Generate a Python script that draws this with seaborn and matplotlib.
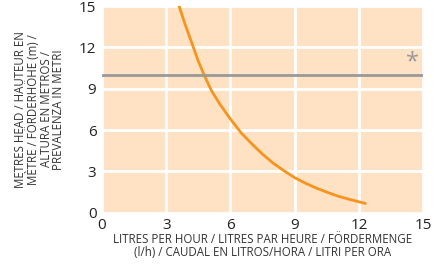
import matplotlib
matplotlib.use("Agg")
import matplotlib.pyplot as plt
import seaborn as sns
import pandas as pd

# flow (l/h) vs head (m)
flow = [3.6, 3.9, 4.2, 4.5, 4.8, 5.1, 5.5, 6.0, 6.5, 7.0, 7.5, 8.0, 8.5, 9.0,
        9.5, 10.0, 10.5, 11.0, 11.5, 12.0, 12.3]
head = [15.0, 13.6, 12.3, 11.0, 9.9, 8.9, 7.9, 6.8, 5.8, 5.0, 4.25, 3.6, 3.05, 2.55,
        2.15, 1.8, 1.5, 1.22, 1.0, 0.8, 0.68]
max_head = 10
ticks = [0, 3, 6, 9, 12, 15]

df = pd.DataFrame({"flow": flow, "head": head})

sns.set_style("whitegrid", {"axes.facecolor": "#FFE1C4", "grid.color": "white"})
plt.rcParams["font.family"] = ["Open Sans", "DejaVu Sans"]

fig = plt.figure(figsize=(4.34, 2.66), dpi=100)
ax = fig.add_axes([0.235, 0.2, 0.74, 0.777])

sns.lineplot(data=df, x="flow", y="head", color="#F7941D", linewidth=2, ax=ax)
ax.axhline(max_head, color="#999999", linewidth=2)
ax.text(14.5, 10.9, "*", color="#999999", fontsize=17, ha="center", va="center")

ax.set_xlim(0, 15)
ax.set_ylim(0, 15)
ax.set_xticks(ticks)
ax.set_yticks(ticks)
ax.grid(True, color="white", linewidth=2)
for side in ax.spines.values():
    side.set_visible(False)
ax.tick_params(axis="both", length=0, labelsize=11, colors="#222222", pad=4)

ax.set_xlabel("LITRES PER HOUR / LITRES PAR HEURE / FÖRDERMENGE\n(l/h) / CAUDAL EN LITROS/HORA / LITRI PER ORA",
              fontsize=8.3, color="#333333", labelpad=0, linespacing=0.95)
ax.set_ylabel("METRES HEAD / HAUTEUR EN\nMÈTRE / FÖRDERHÖHE (m) /\nALTURA EN METROS /\nPREVALENZA IN METRI",
              fontsize=8.3, color="#333333", labelpad=10, linespacing=0.95)

fig.savefig("out.png", dpi=100)
